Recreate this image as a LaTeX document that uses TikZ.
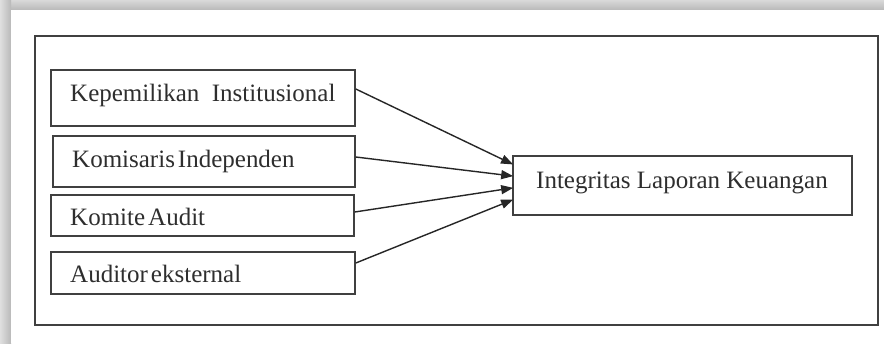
\documentclass[tikz,border=0pt]{standalone}
\usepackage{fontspec}
\setmainfont{Liberation Serif}
\usetikzlibrary{arrows.meta}
\definecolor{frame}{gray}{0.25}
\tikzset{
  box/.style={draw=frame, line width=1.6pt, inner sep=0pt},
  lbl/.style={anchor=base west, inner sep=0pt, font=\fontsize{25}{29}\selectfont, text=black!82},
  arr/.style={draw=black!85, line width=1.4pt, -{Triangle[length=12pt,width=9pt]}, shorten >=-1pt}
}
\begin{document}
\begin{tikzpicture}[x=1pt,y=-1pt]
\useasboundingbox (0,0) rectangle (884,343);
\fill[white] (0,0) rectangle (884,343);
% page shadow
\shade[top color=gray!30, bottom color=gray!55] (0,0) rectangle (884,10);
\shade[left color=gray!25, right color=gray!55] (0,0) rectangle (11,343);
\fill[white] (11,10) rectangle (884,343);
% outer frame
\draw[frame, line width=1.6pt] (35,36) rectangle (878,325);
% left boxes
\node[box, minimum width=304pt, minimum height=56pt] (b1) at (203,98) {};
\node[box, minimum width=302pt, minimum height=51pt] (b2) at (204,161.5) {};
\node[box, minimum width=303pt, minimum height=41pt] (b3) at (202.5,215.5) {};
\node[box, minimum width=304pt, minimum height=42pt] (b4) at (203,273) {};
\node[box, minimum width=339pt, minimum height=59pt] (t) at (682.5,185.5) {};
% labels
\node[lbl] (l1) at (70,101) {Kepemilikan\ \ Institusional};
\node[lbl] (l2) at (72,167) {Komisaris\hspace{3pt}Independen};
\node[lbl] (l3) at (70,225) {Komite\hspace{3pt}Audit};
\node[lbl] (l4) at (70,282) {Auditor\hspace{3pt}eksternal};
\node[lbl] (lt) at (536,188) {Integritas Laporan Keuangan};
% connectors
\draw[arr] ([yshift=9pt]b1.east) -- ([yshift=21.5pt]t.west);
\draw[arr] ([yshift=4.5pt]b2.east) -- ([yshift=9.5pt]t.west);
\draw[arr] ([yshift=3.5pt]b3.east) -- ([yshift=-2.5pt]t.west);
\draw[arr] ([yshift=10pt]b4.east) -- ([yshift=-14.5pt]t.west);
\end{tikzpicture}
\end{document}
